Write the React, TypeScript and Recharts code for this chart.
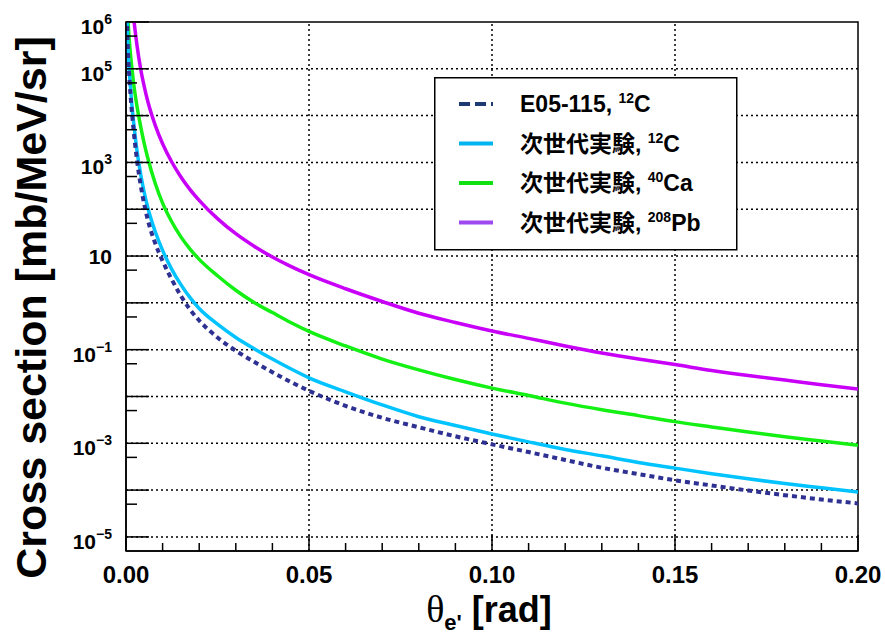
import React from 'react';
import { LineChart, Line, XAxis, YAxis, ReferenceLine, ReferenceArea } from 'recharts';

// scattering angle [rad]
const theta = [
  0.0002, 0.0005, 0.001, 0.0015, 0.002, 0.003, 0.004, 0.005, 0.006, 0.008, 0.01, 0.0125,
  0.015, 0.0175, 0.02, 0.025, 0.03, 0.035, 0.04, 0.045, 0.05, 0.06, 0.07, 0.08,
  0.09, 0.1, 0.11, 0.12, 0.13, 0.14, 0.15, 0.16, 0.17, 0.18, 0.19, 0.2,
];

// cross sections [mb/MeV/sr]
const e05C12 = [
  2e6, 2.8e5, 5.2e4, 1.51e4, 5.6e3, 1.12e3, 331, 126, 57.5, 18.6, 7.9, 3.16,
  1.41, 0.72, 0.42, 0.182, 0.095, 0.055, 0.033, 0.0204, 0.0132, 6.3e-3, 3.5e-3, 2.2e-3,
  1.41e-3, 9.5e-4, 6.5e-4, 4.4e-4, 3.0e-4, 2.2e-4, 1.62e-4, 1.26e-4, 9.8e-5, 7.8e-5, 6.3e-5, 5.2e-5,
];
const nextC12 = [
  2e6, 3.2e5, 7.1e4, 2.1e4, 8.3e3, 1.78e3, 562, 224, 105, 33, 13.2, 5.2,
  2.45, 1.29, 0.76, 0.35, 0.182, 0.105, 0.063, 0.039, 0.025, 0.0126, 6.6e-3, 3.7e-3,
  2.4e-3, 1.58e-3, 1.07e-3, 7.4e-4, 5.4e-4, 3.9e-4, 2.95e-4, 2.24e-4, 1.74e-4, 1.38e-4, 1.12e-4, 9.1e-5,
];
const nextCa40 = [
  4e6, 1.26e6, 3.2e5, 1.26e5, 5.5e4, 1.58e4, 5.9e3, 2.5e3, 1.2e3, 355, 135, 54,
  25.7, 14.1, 8.5, 3.8, 1.86, 1.02, 0.62, 0.38, 0.245, 0.12, 0.063, 0.037,
  0.023, 0.0151, 0.0105, 7.2e-3, 5.2e-3, 3.9e-3, 2.9e-3, 2.24e-3, 1.74e-3, 1.38e-3, 1.12e-3, 9.1e-4,
];
const nextPb208 = [
  2e9, 1e8, 7.9e6, 3.2e6, 1.41e6, 3.2e5, 1e5, 4.1e4, 1.95e4, 6.2e3, 2.5e3, 1.02e3,
  490, 263, 155, 63, 30, 16.2, 9.5, 6.0, 4.0, 2.0, 1.07, 0.6,
  0.38, 0.25, 0.174, 0.12, 0.085, 0.063, 0.048, 0.036, 0.028, 0.0224, 0.0178, 0.0145,
];

const xTicks = [
  0, 0.01, 0.02, 0.03, 0.04, 0.05, 0.06, 0.07, 0.08, 0.09, 0.1,
  0.11, 0.12, 0.13, 0.14, 0.15, 0.16, 0.17, 0.18, 0.19, 0.2,
];
const xGrid = [0.05, 0.1, 0.15];
const yTicks = [
  1e-5, 5e-5, 1e-4, 5e-4, 1e-3, 5e-3, 1e-2, 5e-2, 1e-1, 5e-1, 1, 5,
  10, 50, 100, 500, 1e3, 5e3, 1e4, 5e4, 1e5, 5e5, 1e6,
];
const yGrid = [1e-5, 1e-4, 1e-3, 1e-2, 1e-1, 1, 10, 100, 1e3, 1e4, 1e5];
const yLabelExps = [6, 5, 3, 1, -1, -3, -5];

const legendMain = ['E05-115, ', '次世代実験, ', '次世代実験, ', '次世代実験, '];
const legendSup = ['12', '12', '40', '208'];
const legendElem = ['C', 'C', 'Ca', 'Pb'];

const FONT = '"Liberation Sans", Arial, Helvetica, sans-serif';
const LEGEND_FONT = '"Liberation Sans", Arial, "Noto Sans CJK JP", sans-serif';

const plotColors = ['#2e3192', '#00c3ff', '#14f014', '#c800f8'];
const legendColors = ['#1f3a73', '#00b4f0', '#10e010', '#a048f0'];

const data = theta.map((t, i) => ({
  theta: t,
  e05: e05C12[i],
  c12: nextC12[i],
  ca40: nextCa40[i],
  pb208: nextPb208[i],
}));

const XTick = (props: any) => {
  const { x, y, payload } = props;
  const v = payload.value;
  const major = Math.abs(v * 20 - Math.round(v * 20)) < 1e-6;
  return (
    <g>
      <line x1={x} y1={y} x2={x} y2={y - (major ? 16 : 8)} stroke="#000" strokeWidth={1.5} />
      {major && (
        <text x={x} y={y + 32} textAnchor="middle" fontFamily={FONT} fontWeight="bold" fontSize={24} fill="#000">
          {v.toFixed(2)}
        </text>
      )}
    </g>
  );
};

const YTick = (props: any) => {
  const { x, y, payload } = props;
  const v = payload.value;
  const lg = Math.log10(v);
  const exp = Math.round(lg);
  const major = Math.abs(lg - exp) < 1e-6;
  const labeled = major && yLabelExps.includes(exp);
  return (
    <g>
      <line x1={x} y1={y} x2={x + (major ? 23 : 11)} y2={y} stroke="#000" strokeWidth={1.5} />
      {labeled && (
        <text
          x={x - 14}
          y={y + (exp === 1 ? 8 : 12)}
          textAnchor="end"
          fontFamily={FONT}
          fontWeight="bold"
          fontSize={21}
          fill="#000"
        >
          <tspan>10</tspan>
          {exp !== 1 && (
            <tspan dy={-10} fontSize={14}>
              {exp < 0 ? '\u2212' + String(-exp) : String(exp)}
            </tspan>
          )}
        </text>
      )}
    </g>
  );
};

const XTitle = (props: any) => {
  const { viewBox } = props;
  const cx = viewBox.x + viewBox.width / 2 - 3;
  return (
    <text x={cx} y={viewBox.y + 71} textAnchor="middle" fill="#000">
      <tspan fontFamily='"Liberation Serif", "Times New Roman", serif' fontSize={38}>θ</tspan>
      <tspan fontFamily={FONT} fontWeight="bold" fontSize={22} dy={8}>e'</tspan>
      <tspan fontFamily={FONT} fontWeight="bold" fontSize={36} dy={-8}> [rad]</tspan>
    </text>
  );
};

const YTitle = (props: any) => {
  const { viewBox } = props;
  const cx = viewBox.x + 46;
  const cy = viewBox.y + viewBox.height / 2 + 21;
  return (
    <text
      x={cx}
      y={cy}
      transform={`rotate(-90 ${cx} ${cy})`}
      textAnchor="middle"
      fontFamily={FONT}
      fontWeight="bold"
      fontSize={43}
      fill="#000"
    >
      Cross section [mb/MeV/sr]
    </text>
  );
};

const LegendBox = () => (
  <svg
    width={304}
    height={174}
    style={{ position: 'absolute', left: 434, top: 77 }}
  >
    <rect x={0.75} y={0.75} width={302} height={172} fill="#fff" stroke="#000" strokeWidth={1.5} />
    {legendMain.map((name, i) => {
      const cy = 27 + i * 39.5;
      return (
        <g key={name + i}>
          <line
            x1={25}
            x2={59}
            y1={cy}
            y2={cy}
            stroke={legendColors[i]}
            strokeWidth={4}
            strokeDasharray={i === 0 ? '11 5' : undefined}
          />
          <text x={86} y={cy + 8} fontFamily={LEGEND_FONT} fontWeight="bold" fontSize={23} fill="#000">
            <tspan>{name}</tspan>
            <tspan fontSize={14} dy={-9}>{legendSup[i]}</tspan>
            <tspan dy={9}>{legendElem[i]}</tspan>
          </text>
        </g>
      );
    })}
  </svg>
);

export default function App() {
  return (
    <div style={{ position: 'absolute', left: 0, top: 0, width: 885, height: 634, background: '#fff' }}>
      <LineChart width={885} height={634} data={data} margin={{ top: 22, right: 27, bottom: 0, left: 0 }}>
        <XAxis
          dataKey="theta"
          type="number"
          domain={[0, 0.2]}
          allowDataOverflow
          ticks={xTicks}
          interval={0}
          tick={<XTick />}
          tickLine={false}
          tickSize={0}
          tickMargin={0}
          height={83}
          axisLine={{ stroke: '#000', strokeWidth: 1.5 }}
          label={<XTitle />}
        />
        <YAxis
          type="number"
          scale="log"
          domain={[5e-6, 1e6]}
          allowDataOverflow
          ticks={yTicks}
          interval={0}
          tick={<YTick />}
          tickLine={false}
          tickSize={0}
          tickMargin={0}
          width={126}
          axisLine={{ stroke: '#000', strokeWidth: 1.5 }}
          label={<YTitle />}
        />
        {xGrid.map((v) => (
          <ReferenceLine key={'x' + v} x={v} stroke="#000" strokeWidth={1.5} strokeDasharray="2 3" />
        ))}
        {yGrid.map((v) => (
          <ReferenceLine key={'y' + v} y={v} stroke="#000" strokeWidth={1.5} strokeDasharray="2 3" />
        ))}
        <ReferenceArea x1={0} x2={0.2} y1={5e-6} y2={1e6} fill="none" stroke="#000" strokeWidth={1.5} />
        <Line type="monotone" dataKey="pb208" stroke={plotColors[3]} strokeWidth={3.5} dot={false} isAnimationActive={false} />
        <Line type="monotone" dataKey="ca40" stroke={plotColors[2]} strokeWidth={3.5} dot={false} isAnimationActive={false} />
        <Line type="monotone" dataKey="c12" stroke={plotColors[1]} strokeWidth={3.5} dot={false} isAnimationActive={false} />
        <Line
          type="monotone"
          dataKey="e05"
          stroke={plotColors[0]}
          strokeWidth={4}
          strokeDasharray="5 4"
          dot={false}
          isAnimationActive={false}
        />
      </LineChart>
      <LegendBox />
    </div>
  );
}
